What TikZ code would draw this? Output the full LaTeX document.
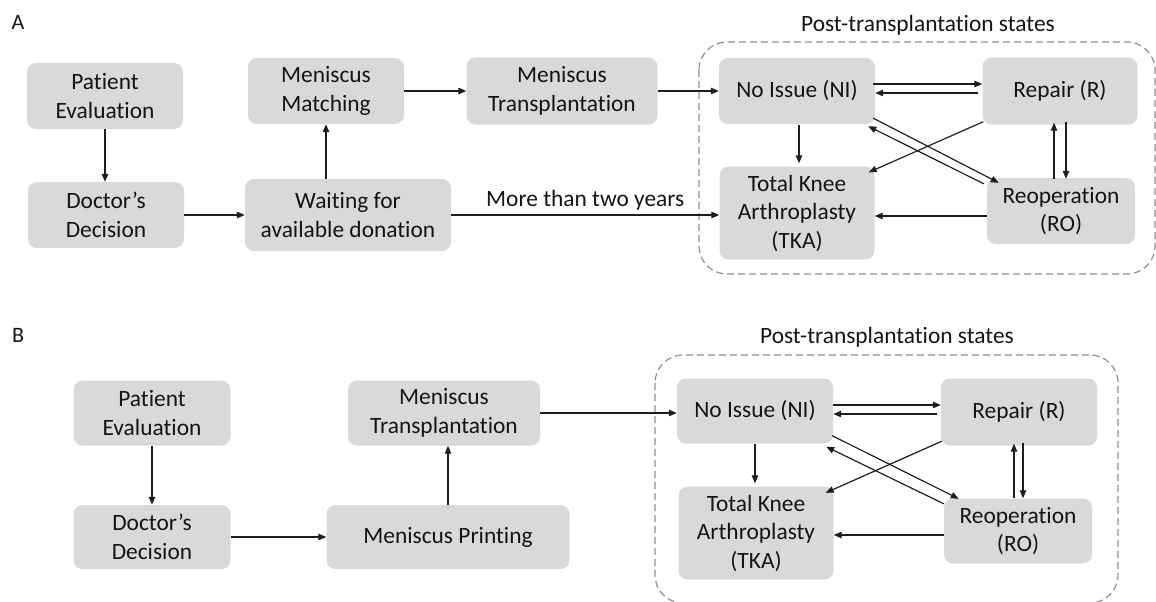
\documentclass[tikz,border=0pt]{standalone}
\usepackage{fontspec}
\setmainfont{Carlito}[Ligatures=NoCommon]
\usetikzlibrary{arrows.meta,calc}
\definecolor{boxgray}{HTML}{D9D9D9}
\definecolor{txt}{HTML}{141414}
\definecolor{arrc}{HTML}{1E1E1E}
\definecolor{dashgray}{HTML}{8F8F8F}
\begin{document}
\begin{tikzpicture}[x=1pt,y=-1pt,
  box/.style={fill=boxgray, rounded corners=9pt, align=center, inner sep=0pt, text=txt,
    font=\fontsize{23.4}{28.5}\selectfont},
  arr/.style={-{Triangle[length=8pt,width=6.5pt]}, line width=1.2pt, draw=arrc},
  grp/.style={draw=dashgray, dash pattern=on 7pt off 4pt, line width=1.2pt, rounded corners=28pt},
  lbl/.style={text=txt, inner sep=0pt, font=\fontsize{23.4}{28.5}\selectfont},
  plbl/.style={text=txt, inner sep=0pt, font=\fontsize{22}{26}\selectfont}]
\useasboundingbox (0,0) rectangle (1156,602);

% ---------------- Panel A ----------------
\node[plbl] (labA) at (18,22) {A};
\draw[grp] (699,42) rectangle (1155,274);
\node[lbl] (titA) at (928,25) {Post-transplantation states};

\node[box, minimum width=156pt, minimum height=66pt] (peA) at (105,96) {Patient\\Evaluation};
\node[box, minimum width=156pt, minimum height=66pt] (ddA) at (106,215) {Doctor’s\\Decision};
\node[box, minimum width=156pt, minimum height=66pt] (mmA) at (326,91) {Meniscus\\Matching};
\node[box, minimum width=206pt, minimum height=72pt] (wA) at (348,215) {Waiting for\\available donation};
\node[box, minimum width=191pt, minimum height=67pt] (mtA) at (562,91) {Meniscus\\Transplantation};
\node[box, minimum width=156pt, minimum height=66pt] (niA) at (797,91) {No Issue (NI)};
\node[box, minimum width=155pt, minimum height=67pt] (rA) at (1060,91) {Repair (R)};
\node[box, minimum width=155pt, minimum height=93pt] (tkaA) at (797,213) {Total Knee\\Arthroplasty\\(TKA)};
\node[box, minimum width=148pt, minimum height=66pt] (roA) at (1061,211) {Reoperation\\(RO)};

\draw[arr] (peA.south) -- (peA.south |- ddA.north);
\draw[arr] (ddA.east) -- (ddA.east -| wA.west);
\draw[arr] (mmA.south |- wA.north) -- (mmA.south);
\draw[arr] (mmA.east) -- (mmA.east -| mtA.west);
\draw[arr] (mtA.east) -- (mtA.east -| niA.west);
\draw[arr] (wA.east) -- (wA.east -| tkaA.west)
  node[lbl, midway, above=4pt] (twoy) {More than two years};
\draw[arr] ($(niA.east)+(-2,-7)$) -- ($(rA.west)+(0,-7)$);
\draw[arr] ($(rA.west)+(-4,2)$) -- ($(niA.east)+(0,2)$);
\draw[arr] ($(niA.south)+(2,1)$) -- ($(tkaA.north)+(2,-3)$);
\draw[arr] ($(niA.south east)+(-2,-6)$) -- ($(roA.north west)+(12,5)$);
\draw[arr] ($(roA.north west)+(-3,6)$) -- ($(niA.south east)+(-7,2)$);
\draw[arr] ($(rA.south west)+(1,-3)$) -- ($(tkaA.north east)+(-6,6)$);
\draw[arr] ($(roA.north)+(-7,1)$) -- ($(rA.south)+(-6,-2)$);
\draw[arr] ($(rA.south)+(6,-3)$) -- ($(roA.north)+(5,1)$);
\draw[arr] ($(roA.west)+(0,5)$) -- ($(tkaA.east)+(0,3)$);

% ---------------- Panel B ----------------
\node[plbl] (labB) at (18,335) {B};
\draw[grp] (655,355) rectangle (1118,603);
\node[lbl] (titB) at (887,337) {Post-transplantation states};

\node[box, minimum width=157pt, minimum height=65pt] (peB) at (152,413) {Patient\\Evaluation};
\node[box, minimum width=157pt, minimum height=64pt] (ddB) at (152,537) {Doctor’s\\Decision};
\node[box, minimum width=192pt, minimum height=65pt] (mtB) at (444,413) {Meniscus\\Transplantation};
\node[box, minimum width=243pt, minimum height=64pt] (mpB) at (448,537) {Meniscus Printing};
\node[box, minimum width=156pt, minimum height=65pt] (niB) at (755,411) {No Issue (NI)};
\node[box, minimum width=156pt, minimum height=67pt] (rB) at (1019,412) {Repair (R)};
\node[box, minimum width=155pt, minimum height=93pt] (tkaB) at (756,533) {Total Knee\\Arthroplasty\\(TKA)};
\node[box, minimum width=148pt, minimum height=65pt] (roB) at (1018,531) {Reoperation\\(RO)};

\draw[arr] (peB.south) -- (peB.south |- ddB.north);
\draw[arr] (ddB.east) -- (ddB.east -| mpB.west);
\draw[arr] (mpB.north) -- (mpB.north |- mtB.south);
\draw[arr] (mtB.east) -- (mtB.east -| niB.west);
\draw[arr] ($(niB.east)+(0,-6)$) -- ($(rB.west)+(0,-7)$);
\draw[arr] ($(rB.west)+(-4,2)$) -- ($(niB.east)+(0,3)$);
\draw[arr] (niB.south) -- ($(tkaB.north)+(-1,-3)$);
\draw[arr] ($(niB.south east)+(-1,-8)$) -- ($(roB.north west)+(15,0.5)$);
\draw[arr] ($(roB.north west)+(0,5.5)$) -- ($(niB.south east)+(-7,3)$);
\draw[arr] ($(rB.south west)+(1,-4.5)$) -- ($(tkaB.north east)+(-8,6.5)$);
\draw[arr] ($(roB.north)+(-4,0)$) -- ($(rB.south)+(-5,-2)$);
\draw[arr] ($(rB.south)+(4,-3)$) -- ($(roB.north)+(5,0)$);
\draw[arr] ($(roB.west)+(0,4)$) -- ($(tkaB.east)+(0,2)$);
\end{tikzpicture}
\end{document}
